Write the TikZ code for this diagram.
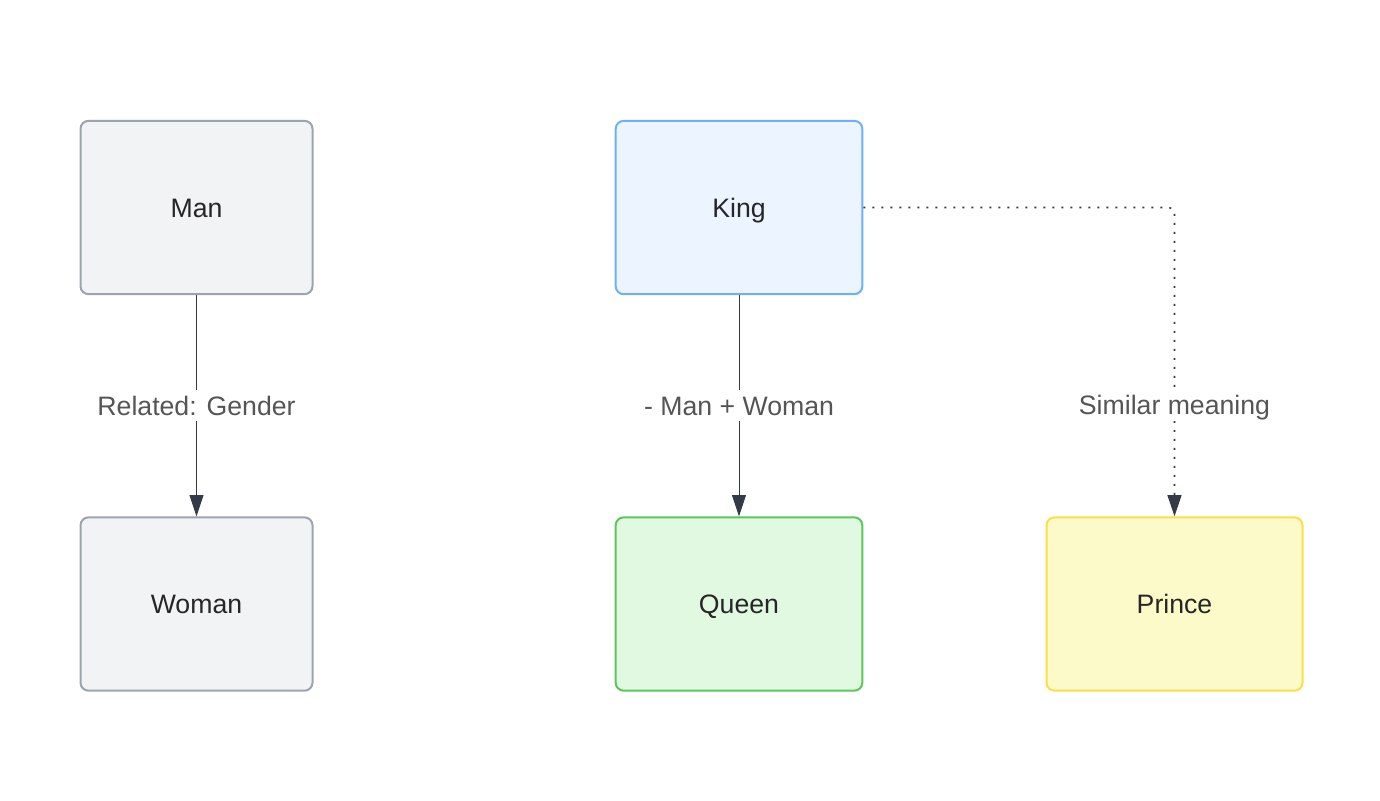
\documentclass[tikz,border=0pt]{standalone}
\usepackage{fontspec}
\setmainfont{Liberation Sans}
\usetikzlibrary{positioning, arrows.meta, calc}
\definecolor{edgeink}{HTML}{343A46}
\definecolor{labelink}{HTML}{555555}
\definecolor{grayfill}{HTML}{F2F3F5}
\definecolor{graydraw}{HTML}{9CA3AF}
\definecolor{bluefill}{HTML}{EBF4FF}
\definecolor{bluedraw}{HTML}{6CB0FA}
\definecolor{greenfill}{HTML}{E1F9E1}
\definecolor{greendraw}{HTML}{5BC75B}
\definecolor{yellowfill}{HTML}{FCFAC8}
\definecolor{yellowdraw}{HTML}{F9DF48}

\tikzset{
  wordbox/.style={rectangle, rounded corners=6pt, line width=1.5pt,
                  minimum height=130pt, text=black!85, text height=17pt, text depth=2.5pt,
                  font=\fontsize{20}{24}\selectfont},
  relation/.style={-{Triangle[length=16pt, width=10.5pt]}, line width=0.75pt, edgeink},
  edgelabel/.style={fill=white, inner sep=2pt, text=labelink, text height=17pt, text depth=2.5pt,
                    font=\fontsize{20}{24}\selectfont}
}

\begin{document}
\begin{tikzpicture}[x=0.75pt, y=-0.75pt]
  \useasboundingbox (0,0) rectangle (1380,800);

  \node[wordbox, fill=grayfill, draw=graydraw, minimum width=174pt] (man) at (196.5,207.5) {Man};
  \node[wordbox, fill=grayfill, draw=graydraw, minimum width=174pt] (woman) at (196.5,604) {Woman};
  \node[wordbox, fill=bluefill, draw=bluedraw, minimum width=185pt] (king) at (739,207.5) {King};
  \node[wordbox, fill=greenfill, draw=greendraw, minimum width=185pt] (queen) at (739,604) {Queen};
  \node[wordbox, fill=yellowfill, draw=yellowdraw, minimum width=192pt] (prince) at (1174.5,604) {Prince};

  \draw[relation] (man) -- node[edgelabel] (gender) {Related: Gender} (woman);
  \draw[relation] (king) -- node[edgelabel] (analogy) {- Man + Woman} (queen);
  \draw[relation, line width=1.2pt, dash pattern=on 1.5pt off 5.25pt, rounded corners=4pt]
    (king.east) -| node[edgelabel, pos=0.82] (similar) {Similar meaning} (prince.north);
\end{tikzpicture}
\end{document}
